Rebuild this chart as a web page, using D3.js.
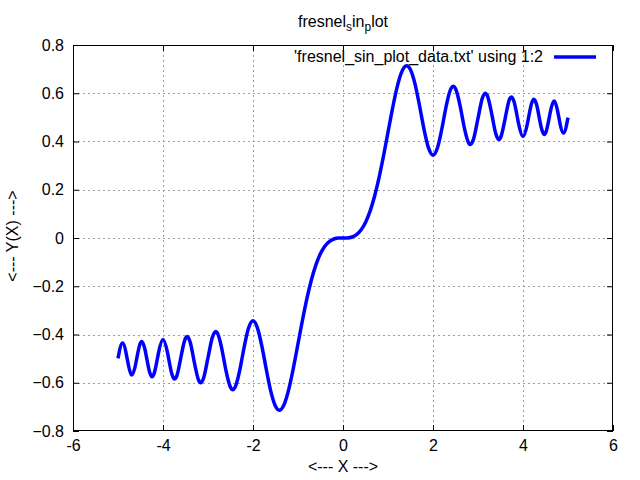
<!DOCTYPE html>
<html><head><meta charset="utf-8">
<script src="https://cdn.jsdelivr.net/npm/d3@7"></script>
<style>body{margin:0;background:#fff}svg{display:block}text{font-family:"Liberation Sans",Arial,sans-serif;font-size:16px;fill:#000}</style>
</head><body><svg id="c" width="640" height="480"></svg>
<script>
const xValues = [-5.0,-4.9,-4.8,-4.796,-4.7,-4.69,-4.6,-4.583,-4.5,-4.472,-4.4,-4.359,-4.3,-4.243,-4.2,-4.123,-4.1,-4.0,-3.9,-3.873,-3.8,-3.742,-3.7,-3.606,-3.6,-3.5,-3.464,-3.4,-3.317,-3.3,-3.2,-3.162,-3.1,-3.0,-2.9,-2.828,-2.8,-2.7,-2.646,-2.6,-2.5,-2.449,-2.4,-2.3,-2.236,-2.2,-2.1,-2.0,-1.9,-1.8,-1.7,-1.6,-1.5,-1.414,-1.4,-1.3,-1.2,-1.1,-1.0,-0.9,-0.8,-0.7,-0.6,-0.5,-0.4,-0.3,-0.2,-0.1,
 0.0,0.1,0.2,0.3,0.4,0.5,0.6,0.7,0.8,0.9,1.0,1.1,1.2,1.3,1.4,1.414,1.5,1.6,1.7,1.8,1.9,2.0,2.1,2.2,2.236,2.3,2.4,2.449,2.5,2.6,2.646,2.7,2.8,2.828,2.9,3.0,3.1,3.162,3.2,3.3,3.317,3.4,3.464,3.5,3.6,3.606,3.7,3.742,3.8,3.873,3.9,4.0,4.1,4.123,4.2,4.243,4.3,4.359,4.4,4.472,4.5,4.583,4.6,4.69,4.7,4.796,4.8,4.9,5.0];
const yValues = [-0.4992,-0.4351,-0.4968,-0.5009,-0.5671,-0.5678,-0.5162,-0.4990,-0.4342,-0.4289,-0.4623,-0.5012,-0.5540,-0.5750,-0.5632,-0.4986,-0.4758,-0.4205,-0.4752,-0.5017,-0.5656,-0.5849,-0.5750,-0.4978,-0.4923,-0.4152,-0.4083,-0.4296,-0.5028,-0.5193,-0.5933,-0.6004,-0.5818,-0.4963,-0.4101,-0.3880,-0.3915,-0.4529,-0.5055,-0.5500,-0.6192,-0.6290,-0.6197,-0.5532,-0.4910,-0.4557,-0.3743,-0.3434,-0.3733,-0.4509,-0.5492,-0.6389,-0.6975,-0.7139,-0.7135,-0.6863,-0.6234,-0.5365,-0.4383,-0.3398,-0.2493,-0.1721,-0.1105,-0.0647,-0.0334,-0.0141,-0.0042,-0.0005,
 0.0,0.0005,0.0042,0.0141,0.0334,0.0647,0.1105,0.1721,0.2493,0.3398,0.4383,0.5365,0.6234,0.6863,0.7135,0.7139,0.6975,0.6389,0.5492,0.4509,0.3733,0.3434,0.3743,0.4557,0.4910,0.5532,0.6197,0.6290,0.6192,0.5500,0.5055,0.4529,0.3915,0.3880,0.4101,0.4963,0.5818,0.6004,0.5933,0.5193,0.5028,0.4296,0.4083,0.4152,0.4923,0.4978,0.5750,0.5849,0.5656,0.5017,0.4752,0.4205,0.4758,0.4986,0.5632,0.5750,0.5540,0.5012,0.4623,0.4289,0.4342,0.4990,0.5162,0.5678,0.5671,0.5009,0.4968,0.4351,0.4992];
const xTicks = [-6,-4,-2,0,2,4,6];
const yTicks = [-0.8,-0.6,-0.4,-0.2,0,0.2,0.4,0.6,0.8];
const titleParts = [["fresnel",false],["s",true],["in",false],["p",true],["lot",false]];
const legendLabel = "'fresnel_sin_plot_data.txt' using 1:2";
const xLabel = "<--- X --->";
const yLabel = "<--- Y(X) --->";

const L=73,R=613,T=45,B=431;
const FS=16;
const svg=d3.select("#c");
const x=d3.scaleLinear().domain([-6,6]).range([L,R]);
const y=d3.scaleLinear().domain([-0.8,0.8]).range([B,T]);
const fmt=v=>Math.abs(v)<1e-9?"0":d3.format(".1f")(v);

// grid
svg.append("g").selectAll("line").data(xTicks.slice(1,-1)).join("line")
 .attr("x1",d=>Math.round(x(d))+0.5).attr("x2",d=>Math.round(x(d))+0.5).attr("y1",T).attr("y2",B)
 .attr("stroke","#a0a0a0").attr("stroke-dasharray","2,3").attr("stroke-width",1);
svg.append("g").selectAll("line").data(yTicks.slice(1,-1)).join("line")
 .attr("y1",d=>Math.round(y(d))+0.5).attr("y2",d=>Math.round(y(d))+0.5).attr("x1",L).attr("x2",R)
 .attr("stroke","#a0a0a0").attr("stroke-dasharray","2,3").attr("stroke-width",1);

// axes (inward ticks on all four sides)
const tl=6;
const style=(sel)=>{sel.select(".domain").remove();sel.selectAll("line").attr("stroke","#000");
  sel.selectAll("text").attr("font-size",FS).attr("font-family","Liberation Sans, Arial, sans-serif").attr("fill","#000");};
svg.append("g").attr("transform",`translate(0,${B})`)
 .call(d3.axisBottom(x).tickValues(xTicks).tickSize(-tl).tickPadding(9).tickFormat(d=>String(d))).call(style);
svg.append("g").attr("transform",`translate(0,${T})`)
 .call(d3.axisTop(x).tickValues(xTicks).tickSize(-tl).tickFormat("")).call(style);
svg.append("g").attr("transform",`translate(${L},0)`)
 .call(d3.axisLeft(y).tickValues(yTicks).tickSize(-tl).tickPadding(9).tickFormat(fmt)).call(style);
svg.append("g").attr("transform",`translate(${R},0)`)
 .call(d3.axisRight(y).tickValues(yTicks).tickSize(-tl).tickFormat("")).call(style);

// border
svg.append("rect").attr("x",L+0.5).attr("y",T+0.5).attr("width",R-L-1).attr("height",B-T-1)
 .attr("fill","none").attr("stroke","#000").attr("stroke-width",1);

// data line
const pts=xValues.map((v,i)=>[v,yValues[i]]);
svg.append("path").datum(pts).attr("fill","none").attr("stroke","#0000ff").attr("stroke-width",3.5)
 .attr("stroke-linejoin","round")
 .attr("d",d3.line().x(d=>x(d[0])).y(d=>y(d[1])).curve(d3.curveMonotoneX));

// legend
svg.append("text").attr("x",543).attr("y",62).attr("text-anchor","end").text(legendLabel);
svg.append("line").attr("x1",554).attr("x2",596).attr("y1",57).attr("y2",57).attr("stroke","#0000ff").attr("stroke-width",3.5);

// title
const t=svg.append("text").attr("x",343).attr("y",27).attr("text-anchor","middle");
titleParts.forEach(([s,sub],i)=>{
  const ts=t.append("tspan").text(s);
  if(sub){ts.attr("font-size",12).attr("dy",4);} else if(i>0){ts.attr("dy",-4);}
});
// axis labels
svg.append("text").attr("x",343).attr("y",472).attr("text-anchor","middle").text(xLabel);
svg.append("text").attr("transform","translate(18,236) rotate(-90)").attr("text-anchor","middle").text(yLabel);
</script></body></html>
